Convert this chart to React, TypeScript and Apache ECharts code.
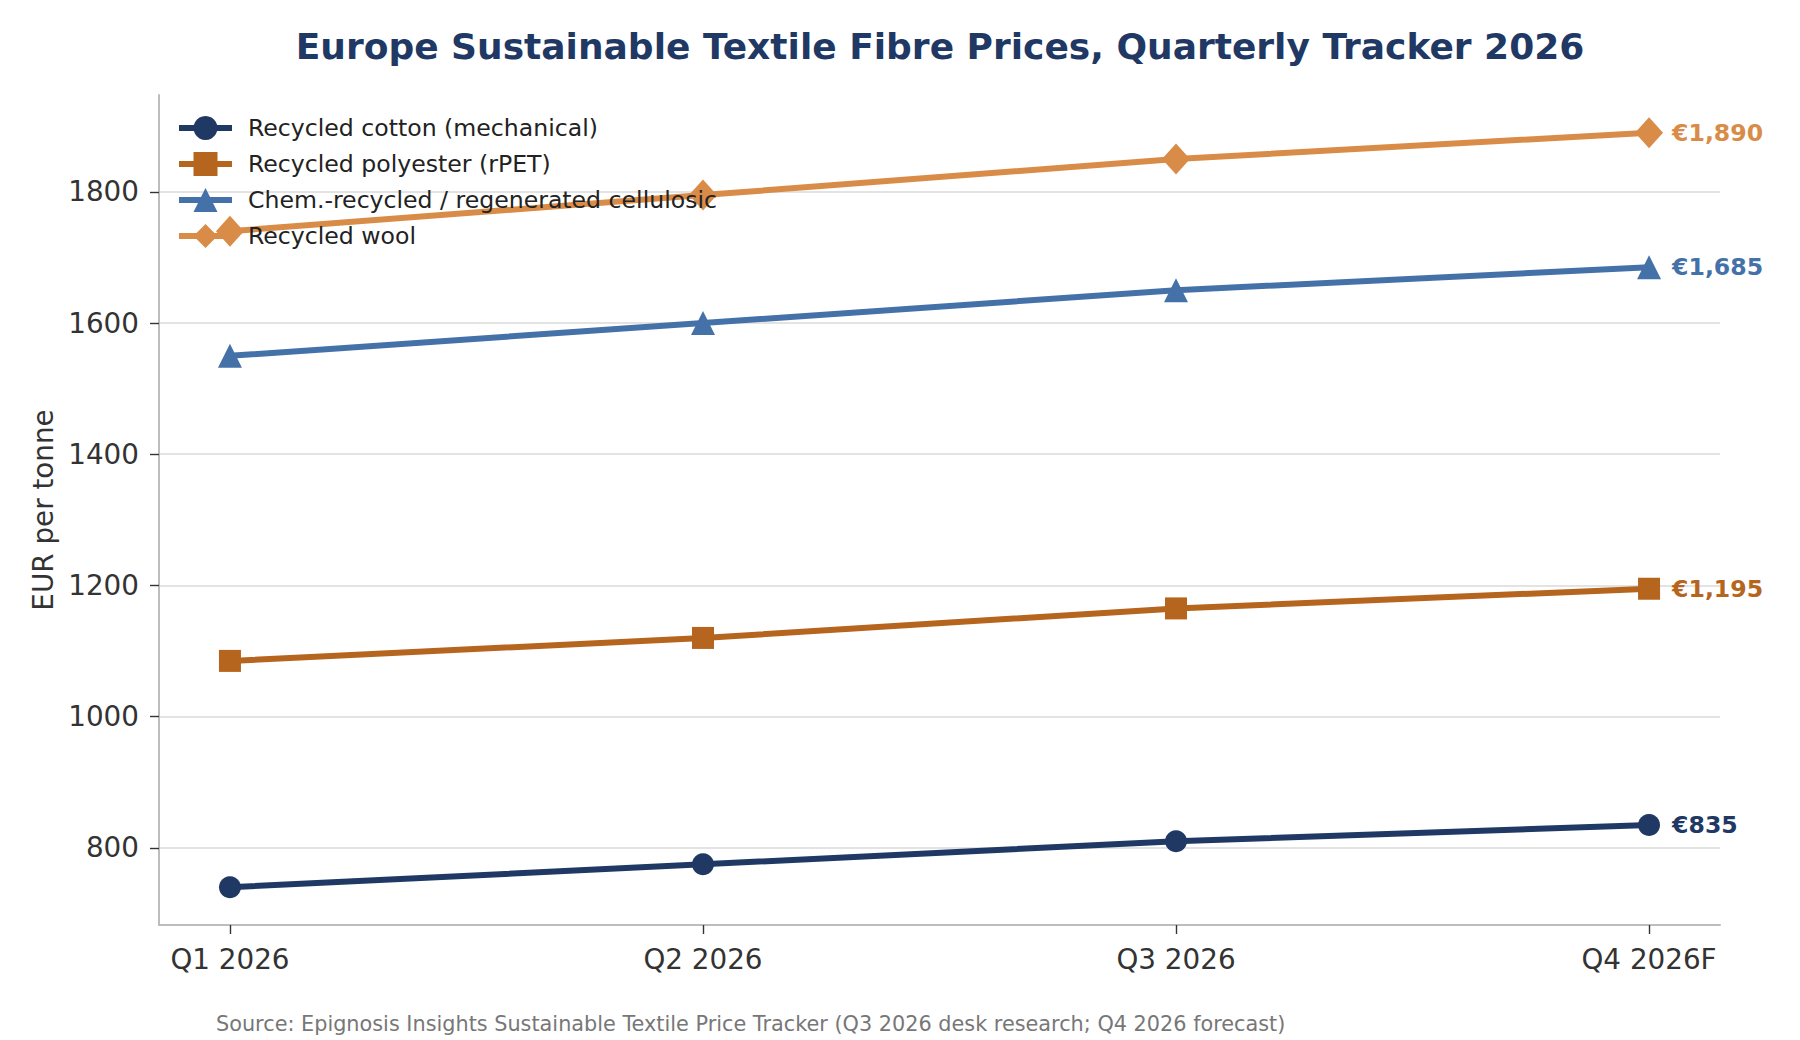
import React, { useEffect, useRef } from 'react';
import * as echarts from 'echarts';

const quarters = ['Q1 2026', 'Q2 2026', 'Q3 2026', 'Q4 2026F'];
const seriesNames = [
  'Recycled cotton (mechanical)',
  'Recycled polyester (rPET)',
  'Chem.-recycled / regenerated cellulosic',
  'Recycled wool'
];
const cottonPrices = [740, 775, 810, 835];
const rpetPrices = [1085, 1120, 1165, 1195];
const cellulosicPrices = [1550, 1600, 1650, 1685];
const woolPrices = [1740, 1795, 1850, 1890];
const yTicks = [800, 1000, 1200, 1400, 1600, 1800];

const colors = ['#1f3864', '#b5651d', '#4472a8', '#d98c47'];
const symbols = ['circle', 'rect', 'triangle', 'diamond'];
const symbolSizes: any[] = [22, 22, 24, [28, 31]];

const FONT = '"DejaVu Sans", Verdana, sans-serif';

const App: React.FC = () => {
  const chartRef = useRef<HTMLDivElement>(null);

  useEffect(() => {
    if (!chartRef.current) return;
    const chart = echarts.init(chartRef.current, null, { renderer: 'svg' });

    const allValues = [cottonPrices, rpetPrices, cellulosicPrices, woolPrices];

    const series = allValues.map((vals, i) => ({
      name: seriesNames[i],
      type: 'line',
      data: vals.map((v, idx) => [idx, v]),
      symbol: symbols[i],
      symbolSize: symbolSizes[i],
      color: colors[i],
      lineStyle: { width: 6, color: colors[i] },
      itemStyle: { color: colors[i] },
      z: 2 + i,
      endLabel: {
        show: true,
        distance: 23,
        color: colors[i],
        fontFamily: FONT,
        fontWeight: 'bold',
        fontSize: 23.6,
        formatter: (p: any) => '€' + Number(p.value[1]).toLocaleString('en-US')
      },
      emphasis: { disabled: true }
    }));

    const option = {
      animation: false,
      backgroundColor: '#ffffff',
      textStyle: { fontFamily: FONT },
      grid: { left: 159, right: 80, top: 95, bottom: 115, containLabel: false },
      legend: {
        orient: 'vertical',
        left: 171,
        top: 111,
        z: 20,
        itemWidth: 53,
        itemHeight: 30,
        itemGap: 12,
        data: seriesNames,
        lineStyle: { width: 6 },
        textStyle: {
          fontFamily: FONT,
          fontSize: 23.6,
          color: '#222',
          padding: [0, 0, 0, 11]
        }
      },
      xAxis: {
        type: 'value',
        min: -0.15,
        max: 3.15,
        splitLine: { show: false },
        axisLine: { show: true, onZero: false, lineStyle: { color: '#bdbdbd', width: 2 } },
        axisTick: {
          show: true,
          length: 9,
          customValues: [0, 1, 2, 3],
          lineStyle: { color: '#333', width: 1.4 }
        },
        axisLabel: {
          customValues: [0, 1, 2, 3],
          formatter: (v: number) => quarters[Math.round(v)] ?? '',
          fontSize: 27.8,
          color: '#333',
          margin: 20,
          fontFamily: FONT
        }
      },
      yAxis: {
        type: 'value',
        min: 682.5,
        max: 1947.5,
        name: 'EUR per tonne',
        nameLocation: 'middle',
        nameGap: 102,
        nameTextStyle: { fontSize: 27.8, color: '#333', fontFamily: FONT },
        axisLine: { show: true, onZero: false, lineStyle: { color: '#bdbdbd', width: 2 } },
        axisTick: {
          show: true,
          length: 9,
          customValues: yTicks,
          lineStyle: { color: '#333', width: 1.4 }
        },
        axisLabel: {
          customValues: yTicks,
          formatter: (v: number) => String(v),
          fontSize: 27.8,
          color: '#333',
          margin: 20,
          fontFamily: FONT
        },
        splitLine: { show: true, lineStyle: { color: '#e3e3e3', width: 1.8 } }
      },
      graphic: [
        {
          type: 'text',
          x: 940,
          y: 46,
          style: {
            text: 'Europe Sustainable Textile Fibre Prices, Quarterly Tracker 2026',
            fill: '#1f3864',
            font: `bold 36px ${FONT}`,
            textAlign: 'center',
            textVerticalAlign: 'middle',
            align: 'center',
            verticalAlign: 'middle'
          }
        },
        {
          type: 'text',
          x: 216,
          y: 1024,
          style: {
            text: 'Source: Epignosis Insights Sustainable Textile Price Tracker (Q3 2026 desk research; Q4 2026 forecast)',
            fill: '#777777',
            font: `20.8px ${FONT}`,
            textAlign: 'left',
            textVerticalAlign: 'middle',
            align: 'left',
            verticalAlign: 'middle'
          }
        }
      ],
      series
    };

    chart.setOption(option as any);

    return () => {
      chart.dispose();
    };
  }, []);

  return (
    <div
      ref={chartRef}
      style={{ position: 'fixed', left: 0, top: 0, width: 1800, height: 1040 }}
    />
  );
};

export default App;
